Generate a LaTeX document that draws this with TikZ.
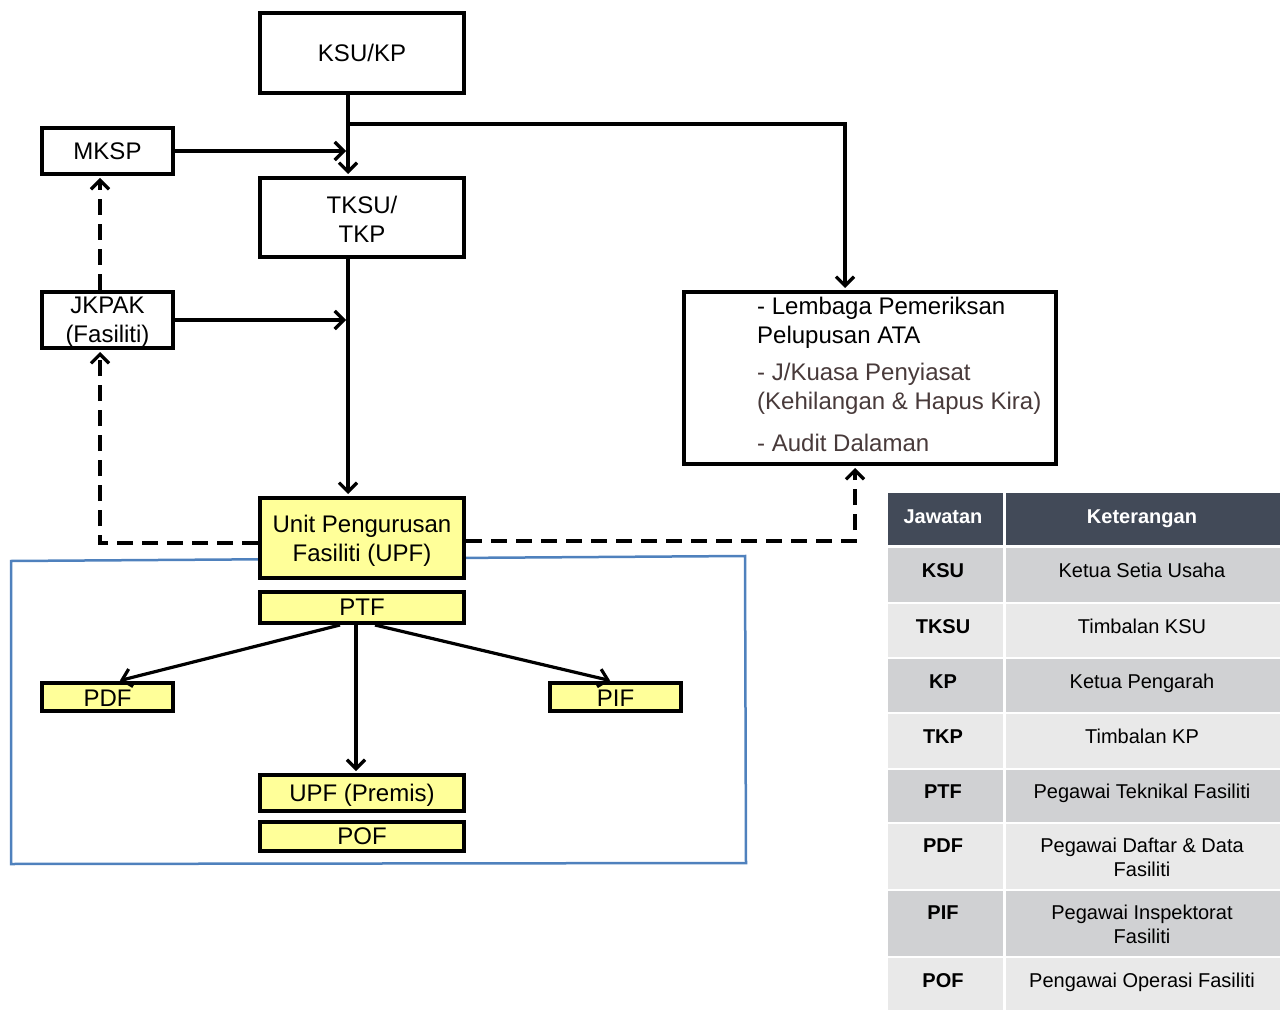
\documentclass[tikz,border=0pt]{standalone}
\usepackage{fontspec}
\setmainfont{Liberation Sans}
\usetikzlibrary{arrows.meta}
\definecolor{upfy}{RGB}{255,255,153}
\definecolor{bluebox}{RGB}{79,129,189}
\definecolor{hdr}{RGB}{66,74,88}
\definecolor{rowd}{RGB}{208,209,211}
\definecolor{rowl}{RGB}{233,233,233}
\definecolor{txtg}{RGB}{72,58,58}
\begin{document}
\begin{tikzpicture}[x=1pt,y=-1pt,
  box/.style={draw=black, line width=4pt, fill=white, inner sep=0pt, align=center,
    font=\fontsize{24}{29}\selectfont},
  ybox/.style={box, fill=upfy},
  btxt/.style={inner sep=0pt, align=center, font=\fontsize{24}{29}\selectfont},
  conn/.style={line width=3.2pt, -{Straight Barb[length=9pt,width=18pt]}, shorten >=2pt},
  dconn/.style={conn, dash pattern=on 16pt off 9pt},
  ltxt/.style={anchor=base west, inner sep=0pt, font=\fontsize{24}{29}\selectfont},
  ttxt/.style={anchor=base, inner sep=0pt, font=\fontsize{20}{24}\selectfont},
  tbold/.style={ttxt, font=\fontsize{20}{24}\selectfont\bfseries},
]
\useasboundingbox (0,0) rectangle (1286,1011);

% blue frame (behind UPF)
\draw[bluebox, line width=2.5pt] (11,561) -- (745,556) -- (746,863) -- (11,864) -- cycle;

% nodes
\node[box, minimum width=204pt, minimum height=80pt] (ksu) at (362,53) {KSU/KP};
\node[box, minimum width=131pt, minimum height=46pt] (mksp) at (107.5,151) {MKSP};
\node[box, minimum width=204pt, minimum height=79pt] (tksu) at (362,217.5) {};
\node[btxt] (tksuT) at (362,219) {TKSU/\\TKP};
\node[box, minimum width=131pt, minimum height=56pt] (jkpak) at (107.5,320) {};
\node[btxt] (jkpakT) at (107.5,322.5) {JKPAK\\(Fasiliti)};
\node[box, minimum width=372pt, minimum height=172pt] (lem) at (870,378) {};
\node[ltxt] (lemA1) at (757,315) {- Lembaga Pemeriksan};
\node[ltxt] (lemA2) at (757,344) {Pelupusan ATA};
\node[ltxt, text=txtg] (lemB1) at (757,380) {- J/Kuasa Penyiasat};
\node[ltxt, text=txtg] (lemB2) at (757,409) {(Kehilangan \& Hapus Kira)};
\node[ltxt, text=txtg] (lemC) at (757,451) {- Audit Dalaman};

\node[ybox, minimum width=204pt, minimum height=80pt] (upf) at (362,538) {};
\node[btxt] (upfT) at (362,541) {Unit Pengurusan\\Fasiliti (UPF)};
\node[ybox, minimum width=204pt, minimum height=31pt] (ptf) at (362,607.5) {PTF};
\node[ybox, minimum width=131pt, minimum height=28pt] (pdf) at (107.5,697) {};
\node[btxt] (pdfT) at (107.5,698) {PDF};
\node[ybox, minimum width=131pt, minimum height=28pt] (pif) at (615.5,697) {};
\node[btxt] (pifT) at (615.5,698) {PIF};
\node[ybox, minimum width=204pt, minimum height=36pt] (prem) at (362,793) {};
\node[btxt] (premT) at (362,795) {UPF (Premis)};
\node[ybox, minimum width=204pt, minimum height=29pt] (pof) at (362,836.5) {POF};

% solid connectors
\draw[conn] ([xshift=-14pt]ksu.south) -- ([xshift=-14pt]tksu.north);
\coordinate (br) at ([xshift=-14pt,yshift=-29pt]ksu.south);
\draw[conn] (br) -| ([xshift=-25pt]lem.north);
\draw[conn] (mksp.east) -- ([xshift=-14pt]tksu.north |- mksp.east);
\draw[conn] ([xshift=-14pt]tksu.south) -- ([xshift=-14pt]upf.north);
\draw[conn] (jkpak.east) -- ([xshift=-14pt]tksu.south |- jkpak.east);

% dashed connectors
\draw[dconn] ([yshift=-5pt]upf.west) -| ([xshift=-7.5pt]jkpak.south);
\draw[dconn] ([xshift=-7.5pt]jkpak.north) -- ([xshift=-7.5pt]mksp.south);
\draw[dconn] ([yshift=-3pt]upf.east) -| ([xshift=-15pt]lem.south);

% PTF connectors
\draw[conn] ([xshift=-22pt]ptf.south) -- ([xshift=10.5pt]pdf.north);
\draw[conn] ([xshift=13pt]ptf.south) -- ([xshift=-3.5pt]pif.north);
\draw[conn] ([xshift=-6pt]ptf.south) -- ([xshift=-6pt]prem.north);

% table
\fill[hdr] (888,493) rectangle (1003,545);
\fill[hdr] (1006,493) rectangle (1280,545);
\foreach \ya/\yb/\c in {548/602/rowd, 604/657/rowl, 659/712/rowd, 714/768/rowl,
    770/822/rowd, 824/889/rowl, 891/956/rowd, 958/1010/rowl}{
  \fill[\c] (888,\ya) rectangle (1003,\yb);
  \fill[\c] (1006,\ya) rectangle (1280,\yb);
}
\node[tbold, text=white] (hJ) at (943,523) {Jawatan};
\node[tbold, text=white] (hK) at (1142,523) {Keterangan};

\node[tbold] (a1) at (943,577) {KSU};
\node[ttxt] (d1) at (1142,577) {Ketua Setia Usaha};
\node[tbold] (a2) at (943,633) {TKSU};
\node[ttxt] (d2) at (1142,633) {Timbalan KSU};
\node[tbold] (a3) at (943,688) {KP};
\node[ttxt] (d3) at (1142,688) {Ketua Pengarah};
\node[tbold] (a4) at (943,743) {TKP};
\node[ttxt] (d4) at (1142,743) {Timbalan KP};
\node[tbold] (a5) at (943,798) {PTF};
\node[ttxt] (d5) at (1142,798) {Pegawai Teknikal Fasiliti};
\node[tbold] (a6) at (943,852) {PDF};
\node[ttxt] (d6a) at (1142,852) {Pegawai Daftar \& Data};
\node[ttxt] (d6b) at (1142,876) {Fasiliti};
\node[tbold] (a7) at (943,919) {PIF};
\node[ttxt] (d7a) at (1142,919) {Pegawai Inspektorat};
\node[ttxt] (d7b) at (1142,943) {Fasiliti};
\node[tbold] (a8) at (943,987) {POF};
\node[ttxt] (d8) at (1142,987) {Pengawai Operasi Fasiliti};
\end{tikzpicture}
\end{document}
